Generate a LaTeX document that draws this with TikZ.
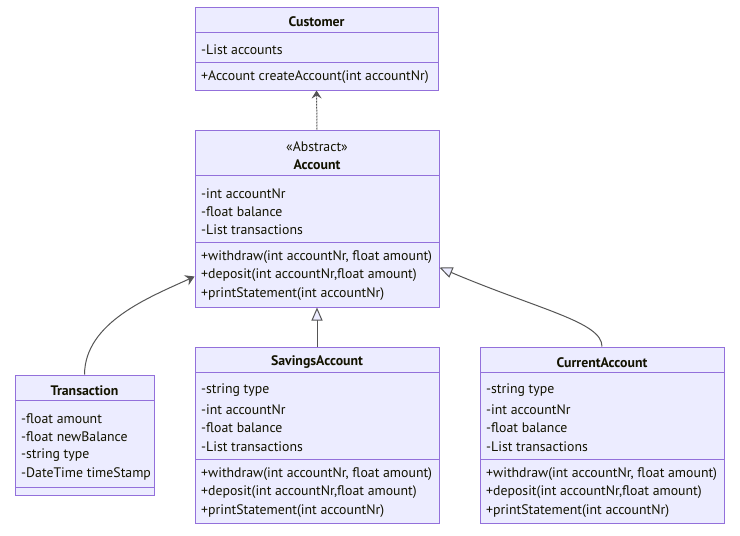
\documentclass[tikz,border=0pt]{standalone}
\usepackage{fontspec}
\setmainfont{PT Sans}
\usetikzlibrary{arrows.meta}
\definecolor{clsfill}{HTML}{ECECFF}
\definecolor{clsdraw}{HTML}{9370DB}
\definecolor{edge}{HTML}{555555}
\definecolor{txt}{HTML}{131300}
\begin{document}
\begin{tikzpicture}[x=1pt,y=-1pt,
  cls/.style={draw=clsdraw,fill=clsfill,line width=1pt,rectangle,inner sep=0pt},
  divider/.style={draw=clsdraw,line width=1pt},
  mtxt/.style={anchor=west,inner sep=0pt,yshift=-1.5pt,font=\fontsize{13.8}{15}\selectfont,text=txt},
  ttl/.style={anchor=center,inner sep=0pt,yshift=-1.5pt,font=\fontsize{13.8}{15}\selectfont\bfseries,text=txt},
  ster/.style={anchor=center,inner sep=0pt,yshift=-1.5pt,font=\fontsize{13.8}{15}\selectfont,text=txt},
  conn/.style={draw=edge,line width=1pt},
  inh/.style={conn,-{Triangle[open,length=13pt,width=11pt,fill=clsfill]}},
  dep/.style={conn,dash pattern=on 2pt off 1pt,-{Stealth[length=8pt,width=10pt,inset=3pt]}},
  assoc/.style={conn,-{Stealth[length=9pt,width=11pt,inset=3pt]}}
]
\useasboundingbox (0,0) rectangle (740,536);
\fill[white] (0,0) rectangle (740,536);

% Customer
\node[cls,minimum width=243pt,minimum height=83pt] (cust) at (316.5,48.5) {};
\draw[divider] (195,32) -- (438,32);
\draw[divider] (195,62) -- (438,62);
\node[ttl] (custT) at (316.5,20) {Customer};
\node[mtxt] (custA1) at (201,48) {-List accounts};
\node[mtxt] (custM1) at (201,76) {+Account createAccount(int accountNr)};

% Account
\node[cls,minimum width=244pt,minimum height=177pt] (acc) at (317,218.5) {};
\draw[divider] (195,175) -- (439,175);
\draw[divider] (195,242) -- (439,242);
\node[ster] (accS) at (317,145) {«Abstract»};
\node[ttl] (accT) at (317,163) {Account};
\node[mtxt] (accA1) at (201,192) {-int accountNr};
\node[mtxt] (accA2) at (201,210) {-float balance};
\node[mtxt] (accA3) at (201,228) {-List transactions};
\node[mtxt] (accM1) at (201,256) {+withdraw(int accountNr, float amount)};
\node[mtxt] (accM2) at (201,274) {+deposit(int accountNr,float amount)};
\node[mtxt] (accM3) at (201,293) {+printStatement(int accountNr)};

% Transaction
\node[cls,minimum width=139pt,minimum height=120pt] (tr) at (84.5,435) {};
\draw[divider] (15,400) -- (154,400);
\draw[divider] (15,487) -- (154,487);
\node[ttl] (trT) at (84.5,389) {Transaction};
\node[mtxt] (trA1) at (21,417) {-float amount};
\node[mtxt] (trA2) at (21,435) {-float newBalance};
\node[mtxt] (trA3) at (21,454) {-string type};
\node[mtxt] (trA4) at (21,472) {-DateTime timeStamp};

% SavingsAccount
\node[cls,minimum width=244pt,minimum height=176pt] (sav) at (317,435) {};
\draw[divider] (195,372) -- (439,372);
\draw[divider] (195,459) -- (439,459);
\node[ttl] (savT) at (317,361) {SavingsAccount};
\node[mtxt] (savA1) at (201,389) {-string type};
\node[mtxt] (savA2) at (201,408) {-int accountNr};
\node[mtxt] (savA3) at (201,426) {-float balance};
\node[mtxt] (savA4) at (201,445) {-List transactions};
\node[mtxt] (savM1) at (201,473) {+withdraw(int accountNr, float amount)};
\node[mtxt] (savM2) at (201,491) {+deposit(int accountNr,float amount)};
\node[mtxt] (savM3) at (201,510) {+printStatement(int accountNr)};

% CurrentAccount
\node[cls,minimum width=244pt,minimum height=176pt] (cur) at (602,435) {};
\draw[divider] (480,372) -- (724,372);
\draw[divider] (480,459) -- (724,459);
\node[ttl] (curT) at (602,361) {CurrentAccount};
\node[mtxt] (curA1) at (486,389) {-string type};
\node[mtxt] (curA2) at (486,408) {-int accountNr};
\node[mtxt] (curA3) at (486,426) {-float balance};
\node[mtxt] (curA4) at (486,445) {-List transactions};
\node[mtxt] (curM1) at (486,473) {+withdraw(int accountNr, float amount)};
\node[mtxt] (curM2) at (486,491) {+deposit(int accountNr,float amount)};
\node[mtxt] (curM3) at (486,510) {+printStatement(int accountNr)};

% connectors
\draw[dep] (acc.north) -- (cust.south);
\draw[inh] (sav.north) -- (acc.south);
\draw[assoc] (tr.north) .. controls (85,322) and (150,297) .. ([yshift=-58pt]acc.west);
\draw[inh] (cur.north) .. controls (602,322) and (540,310) .. ([yshift=-49pt]acc.east);
\end{tikzpicture}
\end{document}
